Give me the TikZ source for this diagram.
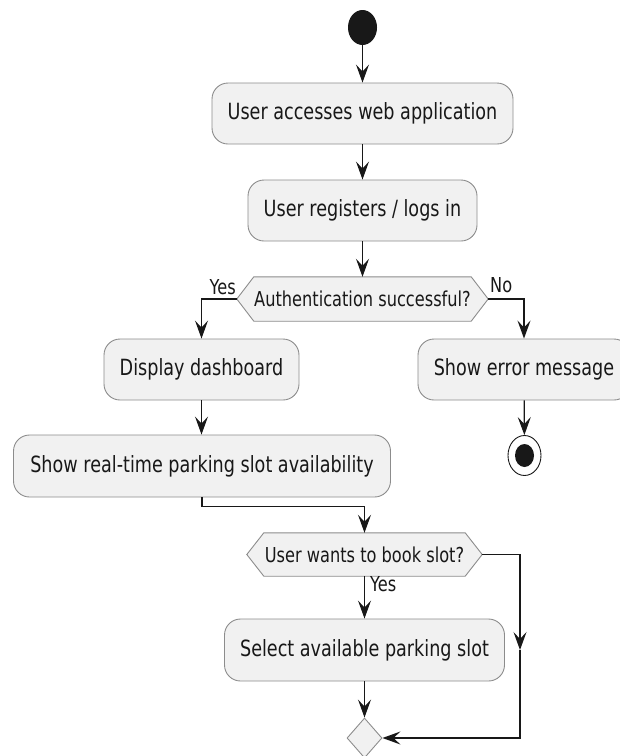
\documentclass[tikz,border=0pt]{standalone}
\usepackage{fontspec}
\setmainfont{DejaVu Sans}
\usetikzlibrary{shapes.geometric,arrows.meta,backgrounds}
\definecolor{boxfill}{HTML}{F1F1F1}
\definecolor{boxline}{HTML}{8C8C8C}
\definecolor{ink}{HTML}{181818}
\newcommand{\tx}[1]{\scalebox{1}[1.27]{#1}}
\begin{document}
\begin{tikzpicture}[x=1pt,y=1pt,
  act/.style={draw=boxline, fill=boxfill, rounded corners=16pt, line width=0.9pt,
    inner sep=0pt, font=\fontsize{17.6}{20}\selectfont, text=ink},
  hexb/.style={inner sep=0pt, font=\fontsize{16.2}{18}\selectfont, text=ink},
  hexshape/.style={draw=boxline, fill=boxfill, line width=0.9pt},
  flow/.style={draw=ink, line width=1.2pt, -{Stealth[length=18pt,width=13pt,inset=7pt]}},
  lbl/.style={font=\fontsize{16.2}{18}\selectfont, text=ink, inner sep=0pt}
]
\clip (0,0) rectangle (620,-756);
\useasboundingbox (0,0) rectangle (620,-756);

% start
\node[ellipse, fill=ink, minimum width=29pt, minimum height=35pt, inner sep=0pt] (start) at (362.5,-27.5) {};

\node[act, minimum width=301pt, minimum height=61pt] (a1) at (362.5,-113.5) {\tx{User accesses web application}};
\node[act, minimum width=229pt, minimum height=61pt] (a2) at (362.5,-210.5) {\tx{User registers / logs in}};

\node[hexb, minimum width=251pt, minimum height=44pt] (d1) at (362.5,-299) {\tx{Authentication successful?}};

\node[act, minimum width=195pt, minimum height=61pt] (dash) at (201.5,-369.5) {\tx{Display dashboard}};
\node[act, minimum width=212pt, minimum height=61pt] (err) at (524,-369.5) {\tx{Show error message}};

\node[ellipse, draw=ink, fill=white, line width=0.9pt, minimum width=33pt, minimum height=40pt, inner sep=0pt] (fin) at (524.5,-455.5) {};
\fill[ink] (fin.center) ellipse [x radius=9.5pt, y radius=11.5pt];

\node[act, minimum width=377pt, minimum height=62pt] (rt) at (202,-466) {\tx{Show real-time parking slot availability}};

\node[hexb, minimum width=235pt, minimum height=43pt] (d2) at (364.5,-554.5) {\tx{User wants to book slot?}};

\node[act, minimum width=280pt, minimum height=62pt] (sel) at (364.5,-650) {\tx{Select available parking slot}};

\node[diamond, draw=boxline, fill=boxfill, line width=0.9pt, minimum width=35pt, minimum height=40pt, inner sep=0pt] (m) at (364.5,-738) {};

\coordinate (kr) at (520,-650);

% hexagons
\begin{scope}[on background layer]
\draw[hexshape] (d1.west) -- ([xshift=17pt]d1.north west) -- ([xshift=-17pt]d1.north east)
  -- (d1.east) -- ([xshift=-17pt]d1.south east) -- ([xshift=17pt]d1.south west) -- cycle;
\draw[hexshape] (d2.west) -- ([xshift=17pt]d2.north west) -- ([xshift=-17pt]d2.north east)
  -- (d2.east) -- ([xshift=-17pt]d2.south east) -- ([xshift=17pt]d2.south west) -- cycle;
\end{scope}

% connectors
\draw[flow] (start) -- (a1);
\draw[flow] (a1) -- (a2);
\draw[flow] (a2) -- (d1);
\draw[flow] (d1.west) -| (dash.north);
\draw[flow] (d1.east) -| (err.north);
\draw[flow] (dash.south) -- (dash.south |- rt.north);
\draw[flow] (err) -- (fin);
\draw[flow] (rt.south) -- ++(0,-9) -| (d2.north);
\draw[flow] (d2.south) -- (d2.south |- sel.north);
\draw[flow] (sel.south) -- (m.north);
\draw[flow] (d2.east) -| (kr);
\draw[flow] (kr) |- (m.east);

% labels
\node[lbl, anchor=base east] (y1) at (236,-294) {\tx{Yes}};
\node[lbl, anchor=base west] (n1) at (490,-292) {\tx{No}};
\node[lbl, anchor=base west] (y2) at (370,-591) {\tx{Yes}};
\end{tikzpicture}
\end{document}
